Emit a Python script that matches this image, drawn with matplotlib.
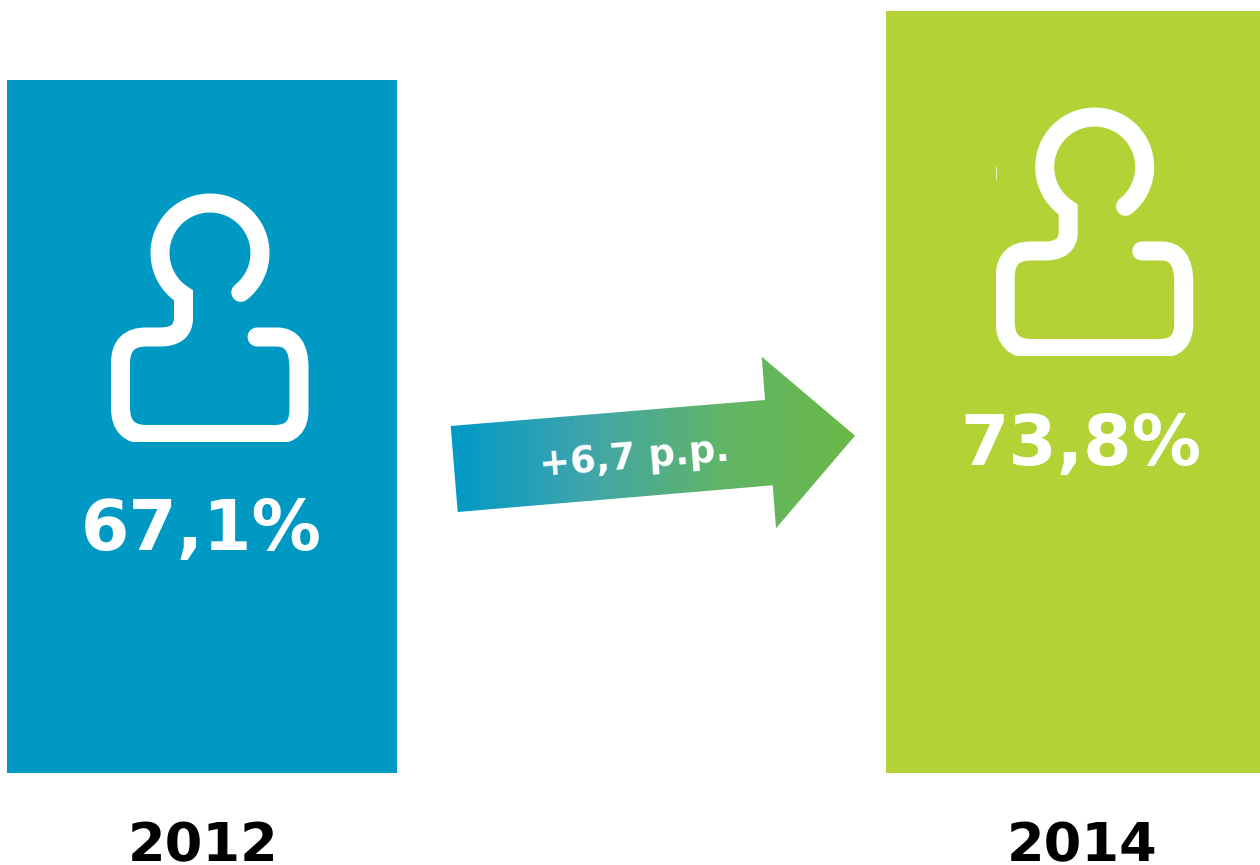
import numpy as np
import matplotlib
matplotlib.use("Agg")
import matplotlib.pyplot as plt
from matplotlib.colors import LinearSegmentedColormap
from matplotlib.patches import PathPatch, Polygon, Rectangle
from matplotlib.path import Path

# dane
lata = ["2012", "2014"]
wartosci = [67.1, 73.8]
etykiety = ["67,1%", "73,8%"]
zmiana = "+6,7 p.p."
kolory = ["#0099C4", "#B2D235"]

W, H = 1260, 865
fig = plt.figure(figsize=(W / 100, H / 100), dpi=100, facecolor="white")

# os danych: 0% na 773 px, 10.33 px na punkt procentowy
skala = 10.33
ax = fig.add_axes([0, 0, 1, 1])
ax.set_xlim(0, W)
ax.set_ylim((773 - H) / skala, 773 / skala)
ax.axis("off")
srodki = [202, 1081]
ax.bar(srodki, wartosci, width=390, color=kolory, linewidth=0)

# nakladka w pikselach na ikony i strzalke
px = fig.add_axes([0, 0, 1, 1])
px.set_xlim(0, W)
px.set_ylim(H, 0)
px.axis("off")
px.patch.set_alpha(0)


def ikona(dx, dy):
    # jedna linia: od zakonczenia na ramieniu, przez tulow i szyje, do luku glowy
    v = [(257, 337), (277, 337), (299, 337), (299, 368), (299, 410), (299, 434.5), (275, 434.5),
         (146, 434.5), (120.5, 434.5), (120.5, 408), (120.5, 363), (120.5, 337), (146, 337),
         (160, 337), (183.5, 337), (183.5, 318), (183.5, 296)]
    kody = [Path.MOVETO, Path.LINETO, Path.CURVE3, Path.CURVE3, Path.LINETO, Path.CURVE3, Path.CURVE3,
            Path.LINETO, Path.CURVE3, Path.CURVE3, Path.LINETO, Path.CURVE3, Path.CURVE3,
            Path.LINETO, Path.CURVE3, Path.CURVE3, Path.LINETO]
    t = np.radians(np.linspace(122, 412, 70))
    for a, b in zip(210 + 50 * np.cos(t), 253 + 50 * np.sin(t)):
        v.append((a, b))
        kody.append(Path.LINETO)
    v = [(a + dx, b + dy) for a, b in v]
    linia = PathPatch(Path(v, kody), fill=False, ec="white", lw=13.7, capstyle="round", joinstyle="miter")
    px.add_patch(linia)
    # dol i bok ikony sa uciete
    ramka = Rectangle((111 + dx, 180 + dy), 198.5, 261.5, transform=px.transData)
    linia.set_clip_path(ramka)


ikona(0, 0)
ikona(884.7, -86)
px.plot([995.5, 995.5], [167, 179], color="white", lw=0.7, alpha=0.7)

# strzalka z gradientem
ramiona = [(450.7, 426), (765, 400), (761.7, 356.7), (855, 435.7),
           (776, 528.3), (772.7, 485.3), (457.7, 512)]
cmap = LinearSegmentedColormap.from_list("strz", ["#0099C6", "#3FA5AC", "#61B567", "#6AB947"])
gradient = np.linspace(0, 1, 256).reshape(1, -1)
im = px.imshow(gradient, extent=(450, 856, 530, 355), cmap=cmap, aspect="auto", zorder=2)
ksztalt = Polygon(ramiona, closed=True, transform=px.transData, fc="none", ec="none")
px.add_patch(ksztalt)
im.set_clip_path(ksztalt)
px.set_xlim(0, W)
px.set_ylim(H, 0)

px.text(634, 458, zmiana, color="white", fontsize=26.7, fontweight="bold", rotation=4.7,
        ha="center", va="center", rotation_mode="anchor", zorder=3)

# podpisy
for sr, et, y in zip([201, 1081], etykiety, [550, 465]):
    px.text(sr, y, et, color="white", fontsize=50, fontweight="bold", ha="center", va="baseline")
for sr, rok in zip([203, 1082], lata):
    px.text(sr, 861, rok, color="black", fontsize=39, fontweight="bold", ha="center", va="baseline")

fig.savefig("out.png", dpi=100, facecolor="white")
